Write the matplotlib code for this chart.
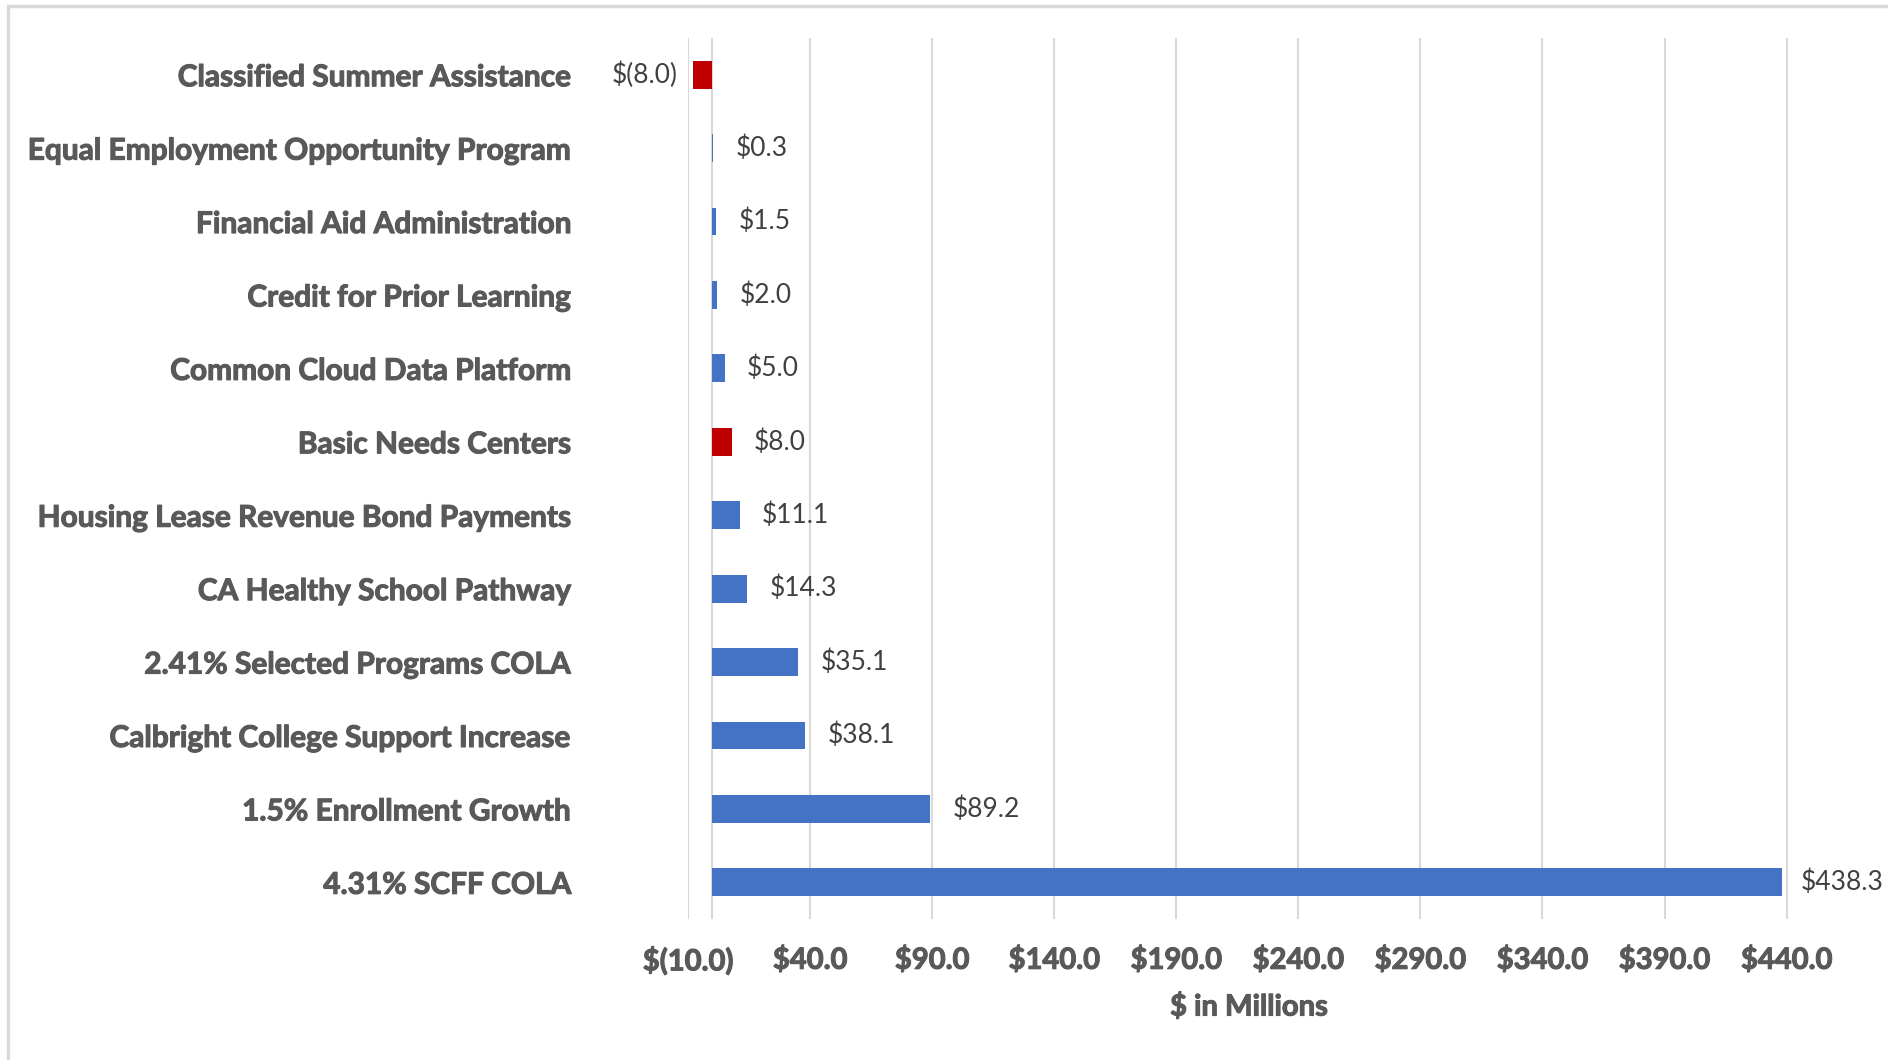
import numpy as np
import matplotlib.pyplot as plt
import matplotlib.patheffects as pe
from matplotlib.patches import Rectangle

categories = ['Classified Summer Assistance', 'Equal Employment Opportunity Program',
              'Financial Aid Administration', 'Credit for Prior Learning',
              'Common Cloud Data Platform', 'Basic Needs Centers',
              'Housing Lease Revenue Bond Payments', 'CA Healthy School Pathway',
              '2.41% Selected Programs COLA', 'Calbright College Support Increase',
              '1.5% Enrollment Growth', '4.31% SCFF COLA']
values = [-8.0, 0.3, 1.5, 2.0, 5.0, 8.0, 11.1, 14.3, 35.1, 38.1, 89.2, 438.3]
bar_colors = ['#C00000', '#4472C4', '#4472C4', '#4472C4', '#4472C4', '#C00000',
              '#4472C4', '#4472C4', '#4472C4', '#4472C4', '#4472C4', '#4472C4']
xticks = np.arange(-10, 441, 50)

plt.rcParams['font.family'] = ['Lato', 'DejaVu Sans']
gray = '#595959'
# fake a heavier weight
heavy = [pe.withStroke(linewidth=0.8, foreground=gray)]

def money(v):
    if v < 0:
        return '$(%.1f)' % abs(v)
    return '$%.1f' % v

fig = plt.figure(figsize=(18.88, 10.60), dpi=100)
ax = fig.add_axes([688/1888, 141/1060, 1122/1888, 881/1060])

# light border of the chart area
fig.patches.append(Rectangle((8/1888, -0.1), 1.2, 1.1 - 6/1060, transform=fig.transFigure,
                             fill=False, edgecolor='#D9D9D9', linewidth=2.5))

y = np.arange(len(categories))[::-1]
ax.barh(y, values, height=0.38, color=bar_colors, zorder=3)

for yi, v in zip(y, values):
    if v < 0:
        ax.annotate(money(v), (v, yi), xytext=(-11, 0), textcoords='offset points',
                    ha='right', va='center', fontsize=19, color='#404040')
    else:
        off = 16 if v < 400 else 13
        ax.annotate(money(v), (v, yi), xytext=(off, 0), textcoords='offset points',
                    ha='left', va='center', fontsize=19, color='#404040')

ax.set_xlim(-10, 449.6)
ax.set_ylim(-0.5, 11.5)
ax.set_xticks(xticks)
ax.set_xticklabels([money(t) for t in xticks], fontsize=21, fontweight='bold', color=gray)
ax.set_yticks(y)
ax.set_yticklabels(categories, fontsize=21.5, fontweight='bold', color=gray)
for lab in ax.get_xticklabels() + ax.get_yticklabels():
    lab.set_path_effects(heavy)
ax.tick_params(axis='both', length=0)
ax.tick_params(axis='y', pad=84)
ax.tick_params(axis='x', pad=20)
ax.grid(axis='x', color='#D9D9D9', linewidth=1.5, zorder=0)
ax.axvline(0, color='#D9D9D9', linewidth=1.5, zorder=1)
for s in ax.spines.values():
    s.set_visible(False)

ax.set_xlabel('$ in Millions', fontsize=21, fontweight='bold', color=gray,
              path_effects=heavy)
ax.xaxis.label.set_va('center')
ax.xaxis.set_label_coords(0.5, -0.0999)

fig.savefig('out.png', dpi=100)
